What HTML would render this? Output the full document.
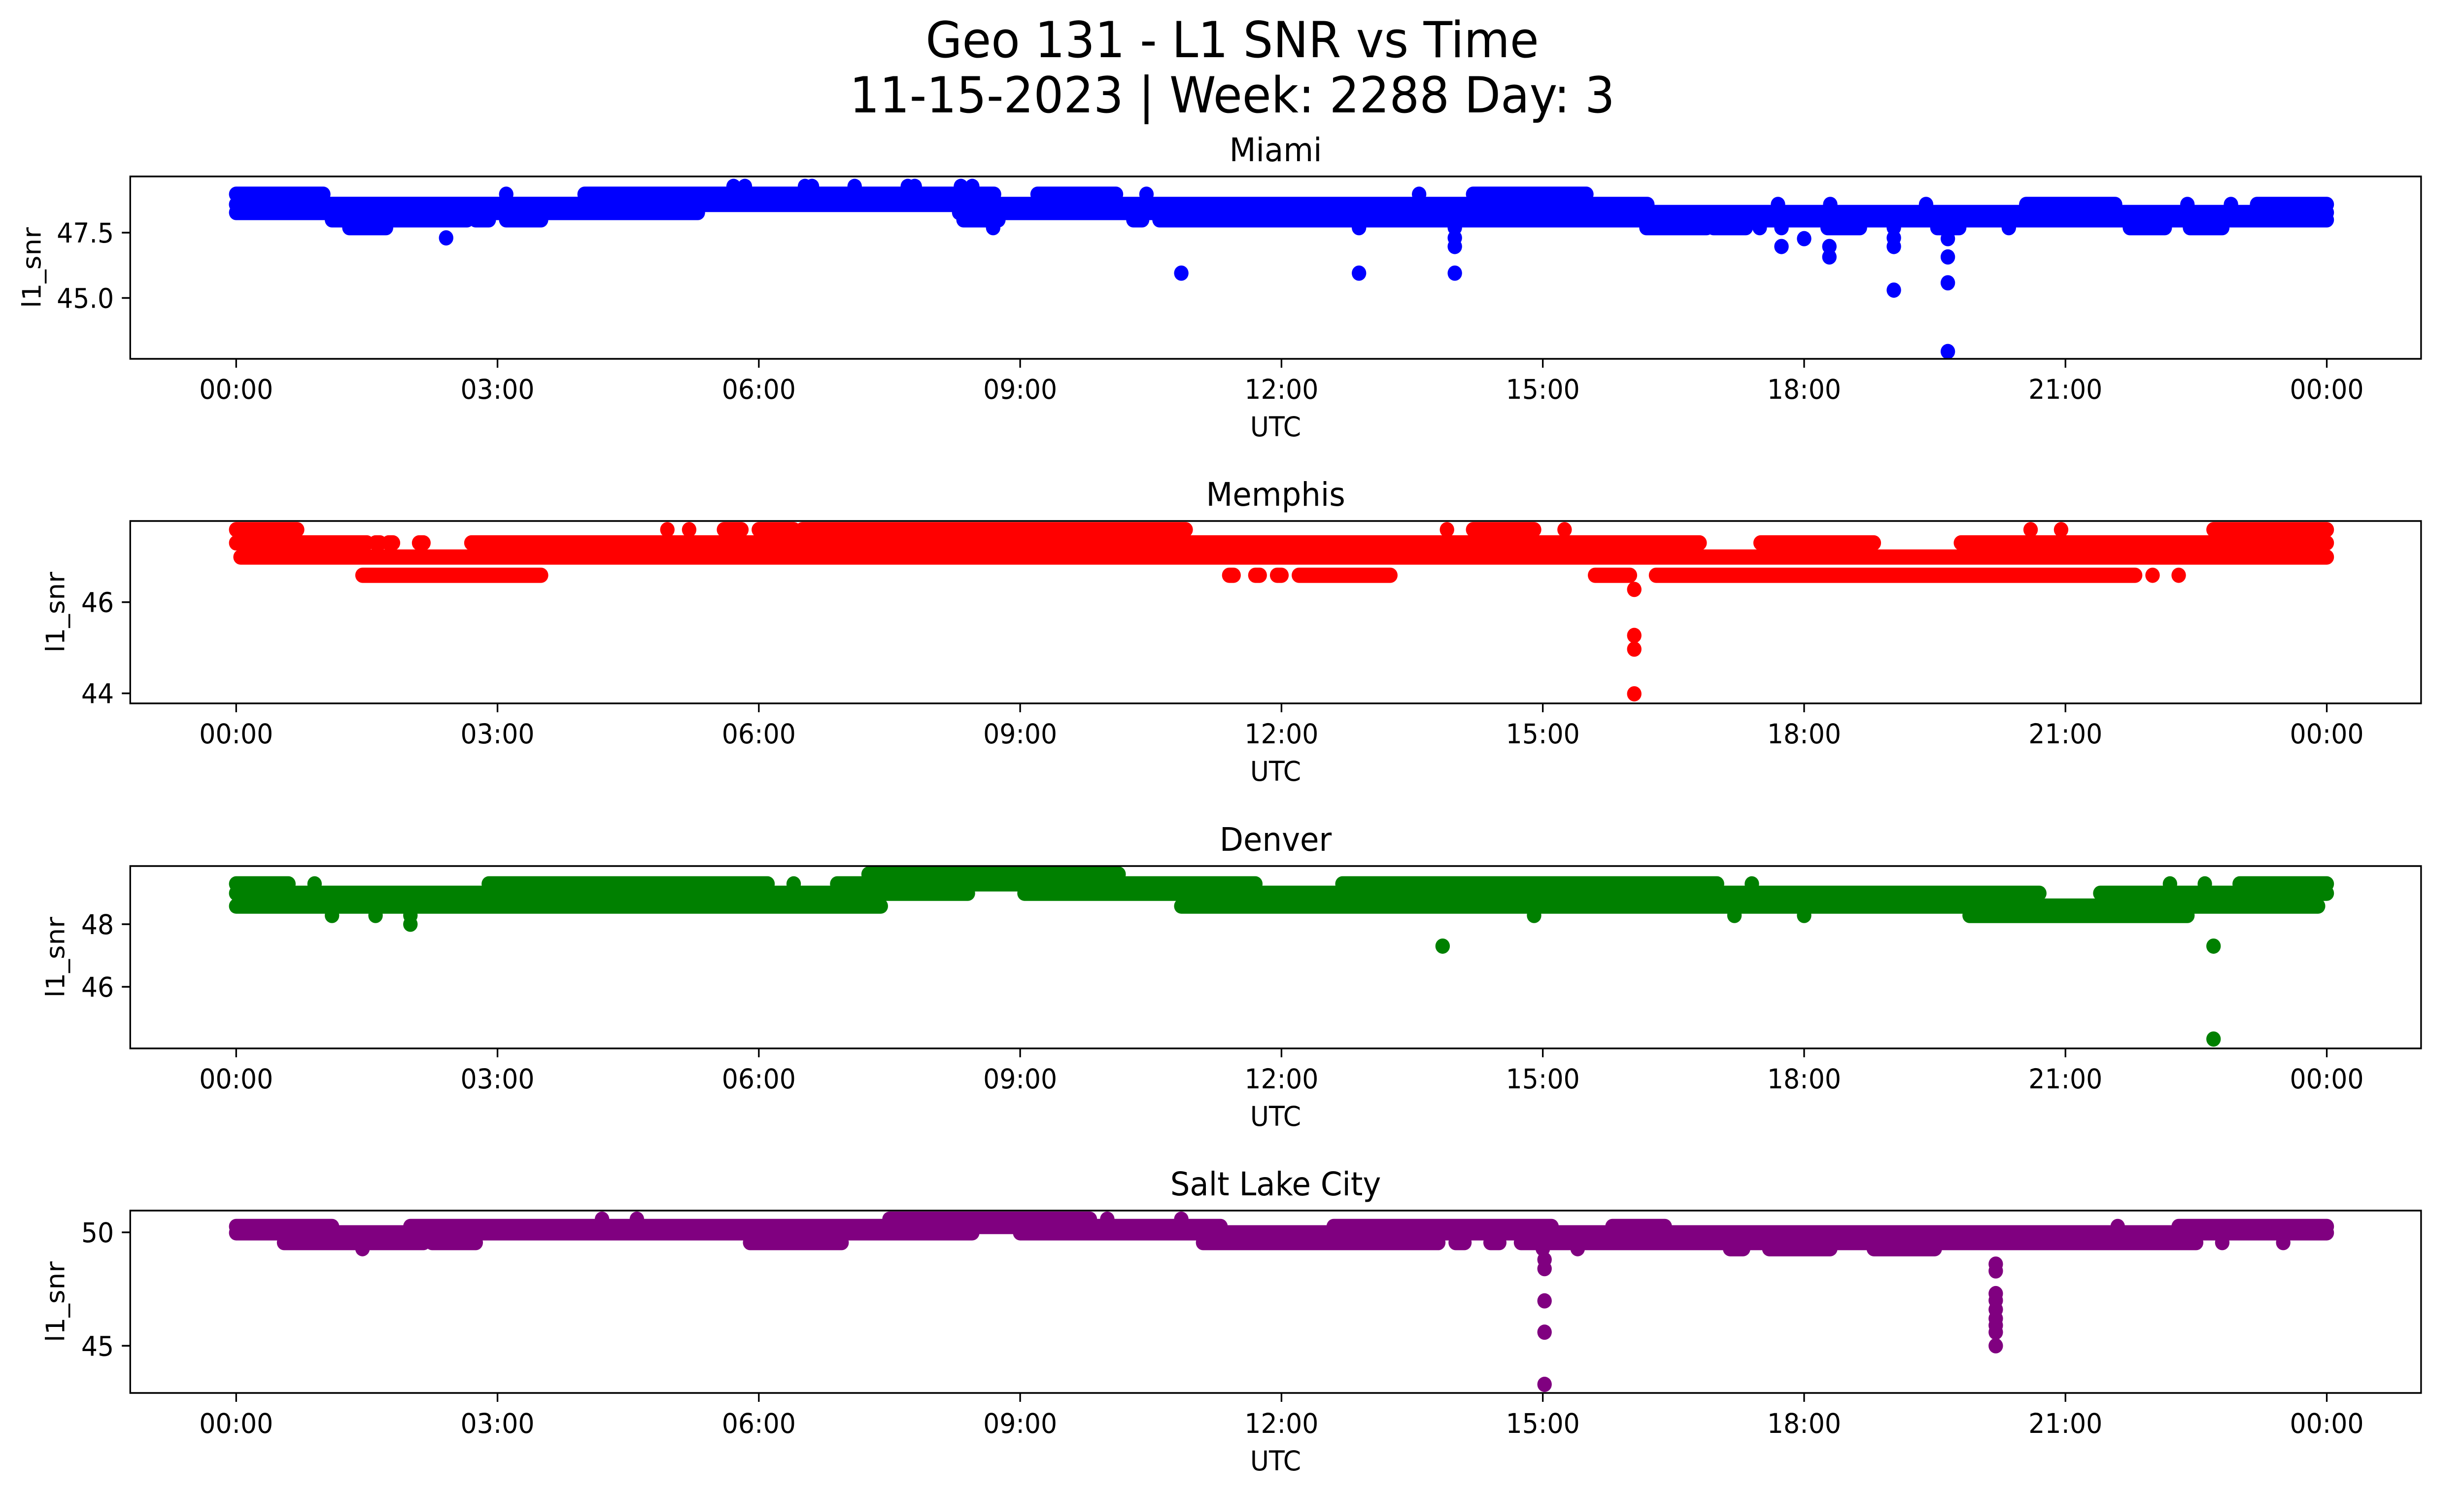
<!DOCTYPE html>
<html><head><meta charset="utf-8"><style>
html,body{margin:0;padding:0;background:#fff;overflow:hidden;width:100%;height:100%;}
svg{position:fixed;left:0;top:0;width:100vw;height:100vh;display:block;font-family:"DejaVu Sans","Liberation Sans",sans-serif;}
</style></head><body>
<svg id="fig" xmlns="http://www.w3.org/2000/svg" viewBox="0 0 5279 3033" preserveAspectRatio="none">
<rect width="5279" height="3033" fill="#fff"/>
<text x="2640" y="116" font-size="101" text-anchor="middle">Geo 131 - L1 SNR vs Time</text>
<text x="2640" y="228" font-size="101" text-anchor="middle">11-15-2023 | Week: 2288 Day: 3</text>
</svg>
<script>
// x tick labels (hours)
const xTickHours = [0,3,6,9,12,15,18,21,24];
const xTickLabels = ["00:00","03:00","06:00","09:00","12:00","15:00","18:00","21:00","00:00"];
const panelNames = ["Miami","Memphis","Denver","Salt Lake City"];
const panelColors = ["#0000ff","#ff0000","#008000","#800080"];
const yTickValues = [[45.0,47.5],[44,46],[46,48],[45,50]];
const yTickLabels = [["45.0","47.5"],["44","46"],["46","48"],["45","50"]];
const yDomains = [[42.67,49.65],[43.78,47.78],[44.03,49.86],[42.92,50.96]];

// Dense runs of samples: start hour, end hour, SNR value
const miamiRunStart = [0,0,0,3.1,4.0,9.2,10.45,13.58,14.2,17.7,18.3,19.4,20.55,22.4,22.9,23.2,0,8.3,1.1,2.75,3.1,8.35,10.3,10.6,1.3,8.69,12.89,13.99,16.19,16.96,17.49,17.74,18.27,19.03,19.53,20.35,21.74,22.43];
const miamiRunEnd   = [1.0,16.2,5.3,3.1,8.7,10.1,10.45,13.58,15.5,17.7,18.3,19.4,21.57,22.4,22.9,24,5.3,24,2.65,2.9,3.5,8.75,10.4,24,1.72,8.69,12.89,13.99,16.88,17.33,17.49,17.74,18.64,19.03,19.78,20.35,22.14,22.8];
const miamiRunValue = [48.97,48.58,48.58,48.97,48.97,48.97,48.97,48.97,48.97,48.58,48.58,48.58,48.58,48.58,48.58,48.58,48.27,48.27,47.99,47.99,47.99,47.99,47.99,47.99,47.69,47.69,47.69,47.69,47.69,47.69,47.69,47.69,47.69,47.69,47.69,47.69,47.69,47.69];
const miamiSpikeT = [5.71,5.84,6.53,6.61,7.1,7.71,7.79,8.32,8.45,2.41,10.85,12.89,13.99,13.99,13.99,17.74,18.0,18.29,18.29,19.03,19.03,19.03,19.65,19.65,19.65,19.65];
const miamiSpikeV = [49.27,49.27,49.27,49.27,49.27,49.27,49.27,49.27,49.27,47.3,45.95,45.95,47.3,46.97,45.95,46.97,47.27,46.57,46.97,47.3,46.97,45.3,47.27,46.57,45.58,42.95];

const memphisRunStart = [0,4.95,5.2,5.6,6.0,6.5,13.9,14.2,15.25,20.6,20.95,22.7,0,1.6,1.75,2.1,2.7,17.5,19.8,0.05,1.45,11.4,11.7,11.95,12.2,15.6,16.3,22.0,22.3];
const memphisRunEnd   = [0.7,4.95,5.2,5.8,6.4,10.9,13.9,14.9,15.25,20.6,20.95,24,1.5,1.65,1.8,2.15,16.8,18.8,24,24,3.5,11.45,11.75,12.0,13.25,16.0,21.8,22.0,22.3];
const memphisRunValue = [47.59,47.59,47.59,47.59,47.59,47.59,47.59,47.59,47.59,47.59,47.59,47.59,47.3,47.3,47.3,47.3,47.3,47.3,47.3,46.99,46.59,46.59,46.59,46.59,46.59,46.59,46.59,46.59,46.59];
const memphisSpikeT = [16.05,16.05,16.05,16.05];
const memphisSpikeV = [46.28,45.27,44.97,43.99];

const denverRunStart = [7.26,10.13,0,0.9,2.9,6.4,6.9,12.7,17.4,22.2,22.6,23.0,0,9.05,21.4,0,10.85,1.1,1.6,2.0,14.9,17.2,18.0,19.9];
const denverRunEnd   = [10.1,10.13,0.6,0.9,6.1,6.4,11.7,17.0,17.4,22.2,22.6,24,8.4,20.7,24,7.4,23.9,1.1,1.6,2.0,14.9,17.2,18.0,22.4];
const denverRunValue = [49.6,49.6,49.29,49.29,49.29,49.29,49.29,49.29,49.29,49.29,49.29,49.29,48.99,48.99,48.99,48.58,48.58,48.28,48.28,48.28,48.28,48.28,48.28,48.28];
const denverSpikeT = [2.0,13.85,22.7,22.7];
const denverSpikeV = [48.0,47.3,47.3,44.33];

const slcRunStart = [4.2,4.6,7.5,10.0,10.85,0,2.0,12.6,15.8,21.6,22.3,0,9.0,0.55,2.25,5.9,11.1,14.0,14.4,14.75,22.8,23.5,1.45,15.0,15.4,17.15,17.6,18.8];
const slcRunEnd   = [4.2,4.6,9.8,10.0,10.85,1.1,11.3,15.1,16.4,21.6,24,8.45,24,2.15,2.75,6.95,13.8,14.1,14.5,22.5,22.8,23.5,1.45,15.0,15.4,17.3,18.3,19.5];
const slcRunValue = [50.58,50.58,50.58,50.58,50.58,50.26,50.26,50.26,50.26,50.26,50.26,49.98,49.98,49.55,49.55,49.55,49.55,49.55,49.55,49.55,49.55,49.55,49.28,49.28,49.28,49.28,49.28,49.28];
const slcSpikeT = [15.02,15.02,15.02,15.02,15.02,20.2,20.2,20.2,20.2,20.2,20.2,20.2,20.2,20.2];
const slcSpikeV = [48.8,48.4,46.98,45.6,43.3,48.6,48.3,47.3,47.0,46.6,46.2,45.9,45.6,45.0];

const runStarts = [miamiRunStart,memphisRunStart,denverRunStart,slcRunStart];
const runEnds = [miamiRunEnd,memphisRunEnd,denverRunEnd,slcRunEnd];
const runValues = [miamiRunValue,memphisRunValue,denverRunValue,slcRunValue];
const spikeTs = [miamiSpikeT,memphisSpikeT,denverSpikeT,slcSpikeT];
const spikeVs = [miamiSpikeV,memphisSpikeV,denverSpikeV,slcSpikeV];

const NS = "http://www.w3.org/2000/svg";
const svg = document.getElementById("fig");
const AX_L = 279, AX_R = 5187, H = 370, R = 15.5;
const panelTops = [358,1057,1757,2456];
const ylabelX = [67,118,118,118];
function xScale(h){ return 506 + h*(4985-506)/24; }
function mk(tag, attrs, parent){ const e=document.createElementNS(NS,tag); for(const k in attrs) e.setAttribute(k,attrs[k]); (parent||svg).appendChild(e); return e; }

for(let p=0;p<4;p++){
  const top = panelTops[p], bot = top+H;
  const [vmin,vmax] = yDomains[p];
  const yScale = v => bot - (v-vmin)/(vmax-vmin)*H;
  const g = mk("g",{});
  
  
  const clipId = "clip"+p;
  const cp = mk("clipPath",{id:clipId},g);
  mk("rect",{x:AX_L,y:top,width:AX_R-AX_L,height:H},cp);
  const marks = mk("g",{"clip-path":"url(#"+clipId+")",fill:panelColors[p],stroke:panelColors[p]},g);
  
  
  const rs=runStarts[p], re=runEnds[p], rv=runValues[p];
  for(let i=0;i<rs.length;i++){
    const x1=xScale(rs[i]), x2=xScale(re[i]), y=yScale(rv[i]);
    let m;
    if(x2-x1<0.5){ m = mk("circle",{cx:x1,cy:y,r:R,stroke:"none"},marks); }
    else { m = mk("line",{x1:x1,y1:y,x2:x2,y2:y,"stroke-width":2*R,"stroke-linecap":"round"},marks); }
    
    
  }
  const st=spikeTs[p], sv=spikeVs[p];
  for(let i=0;i<st.length;i++){
    const c = mk("circle",{cx:xScale(st[i]),cy:yScale(sv[i]),r:R,stroke:"none"},marks);
    
    
  }
  const frame = mk("rect",{x:AX_L,y:top,width:AX_R-AX_L,height:H,fill:"none",stroke:"#000","stroke-width":3.5},g);
  
  
  for(let i=0;i<xTickHours.length;i++){
    const x=xScale(xTickHours[i]);
    const tk = mk("line",{x1:x,y1:bot,x2:x,y2:bot+18,stroke:"#000","stroke-width":3.5},g);
    
    
    const tl = mk("text",{x:x,y:bot+81,"font-size":55,"text-anchor":"middle"},g);
    tl.textContent = xTickLabels[i];
    
    
  }
  for(let i=0;i<yTickValues[p].length;i++){
    const y=yScale(yTickValues[p][i]);
    const tk = mk("line",{x1:AX_L-18,y1:y,x2:AX_L,y2:y,stroke:"#000","stroke-width":3.5},g);
    
    
    const tl = mk("text",{x:AX_L-35,y:y+20,"font-size":55,"text-anchor":"end"},g);
    tl.textContent = yTickLabels[p][i];
    
    
  }
  const xl = mk("text",{x:(AX_L+AX_R)/2,y:bot+157,"font-size":55,"text-anchor":"middle"},g);
  xl.textContent = "UTC";
  
  
  const cy = top+H/2;
  const yl = mk("text",{x:ylabelX[p]+20,y:cy,"font-size":55,"text-anchor":"middle",transform:"rotate(-90 "+(ylabelX[p]+20)+" "+cy+")"},g);
  yl.textContent = "l1_snr";
  
  
  const tt = mk("text",{x:(AX_L+AX_R)/2,y:top-31,"font-size":66,"text-anchor":"middle"},g);
  tt.textContent = panelNames[p];
  
  
}
</script>
</body></html>
